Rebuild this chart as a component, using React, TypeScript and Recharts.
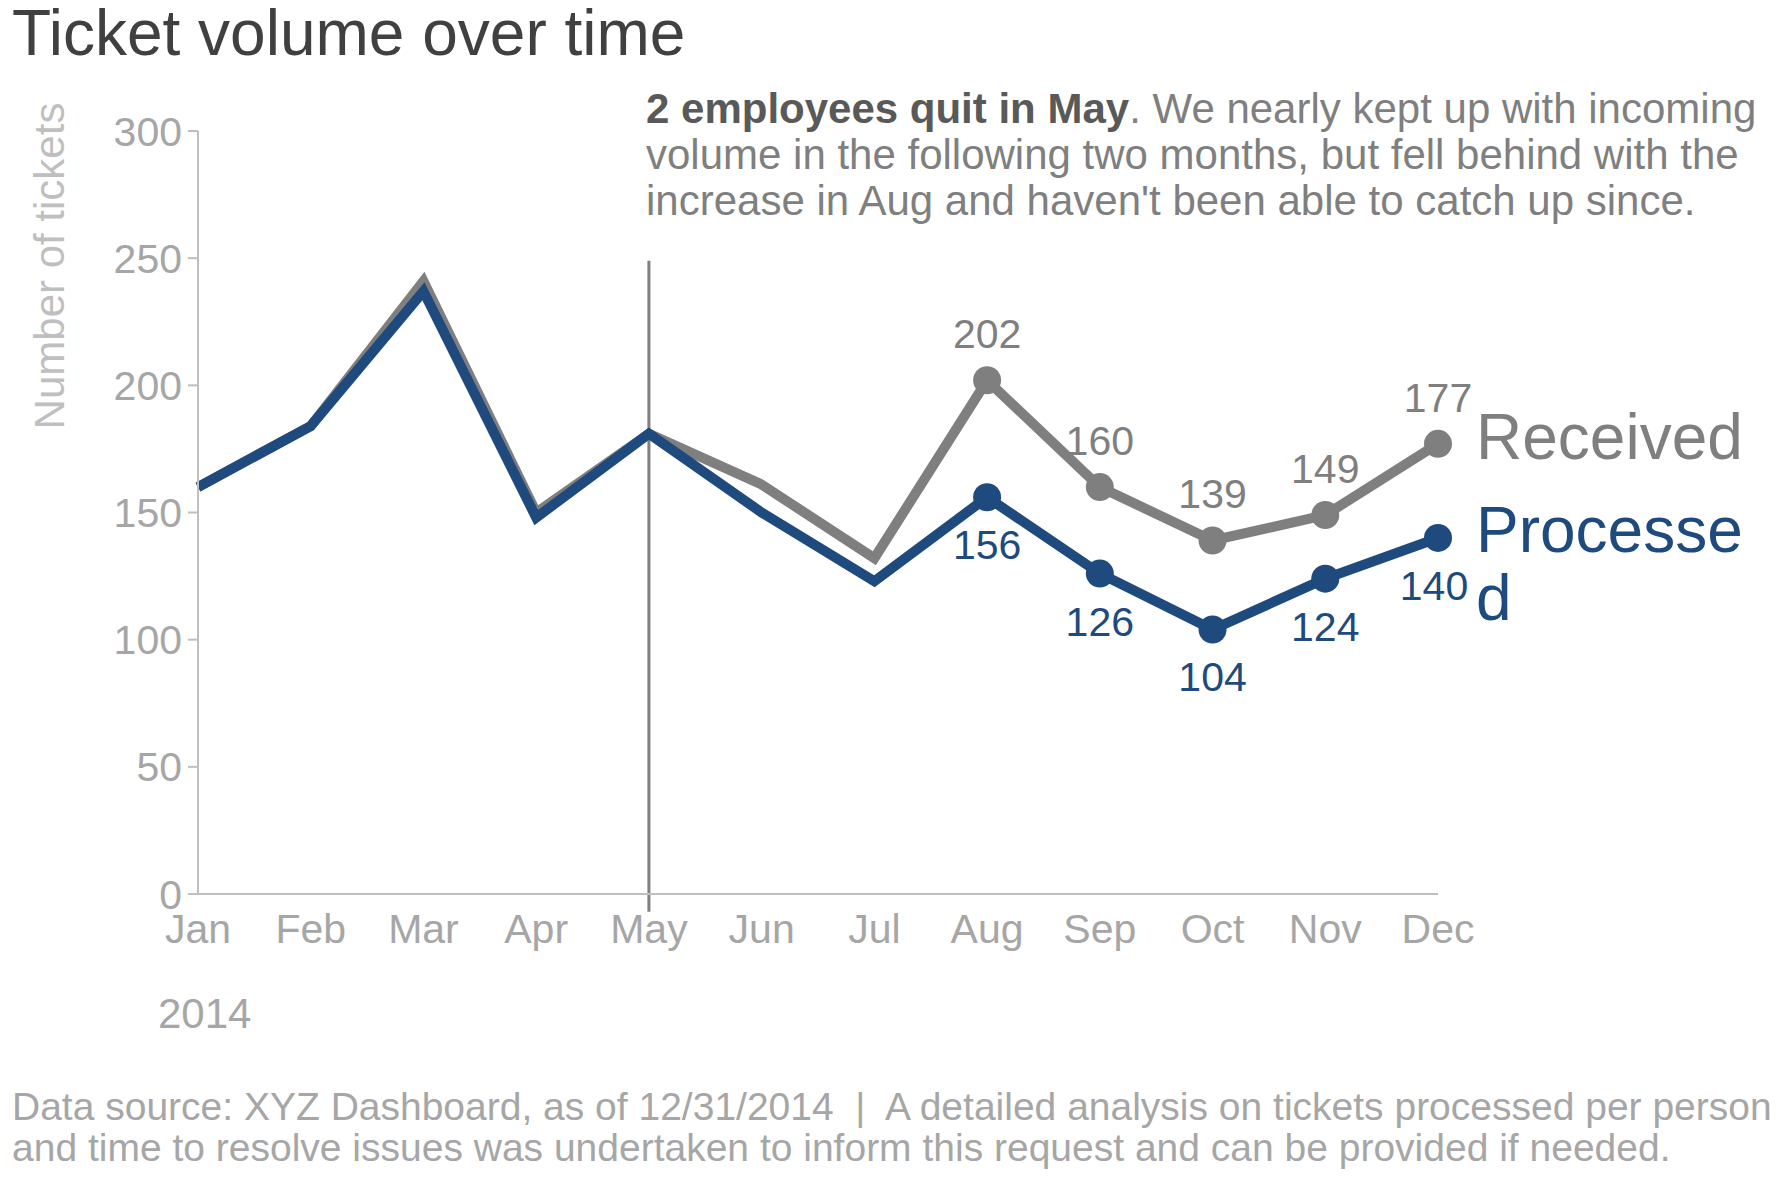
import React from "react";
import { LineChart, Line, XAxis, YAxis, ReferenceLine, LabelList } from "recharts";

const months = ["Jan", "Feb", "Mar", "Apr", "May", "Jun", "Jul", "Aug", "Sep", "Oct", "Nov", "Dec"];
const received = [160, 184, 241, 150, 181, 161, 132, 202, 160, 139, 149, 177];
const processed = [160, 184, 237, 148, 181, 150, 123, 156, 126, 104, 124, 140];
const yTicks = [0, 50, 100, 150, 200, 250, 300];
const FIRST_LABELED = 7;

const GRAY = "#7f7f7f";
const BLUE = "#1f4a7e";
const FONT = "'Liberation Sans', Arial, sans-serif";

const data = months.map((m, i) => ({ month: m, received: received[i], processed: processed[i] }));

const dot = (color: string) => (p: any) =>
  p.index >= FIRST_LABELED ? (
    <circle key={p.index} cx={p.cx} cy={p.cy} r={14} fill={color} />
  ) : (
    <g key={p.index} />
  );

const label = (color: string, above: boolean) => (p: any) => {
  if (p.index < FIRST_LABELED) return null;
  const dx = p.index === 11 && !above ? -4 : 0;
  return (
    <text
      x={p.x + dx}
      y={above ? p.y - 32 : p.y + 62}
      textAnchor="middle"
      fill={color}
      fontSize={41}
      fontFamily={FONT}
    >
      {p.value}
    </text>
  );
};

export default function App() {
  const txt: React.CSSProperties = { position: "absolute", fontFamily: FONT, whiteSpace: "nowrap" };
  return (
    <div style={{ position: "relative", width: 1776, height: 1178, fontFamily: FONT }}>
      <div style={{ ...txt, left: 4, top: -12, fontSize: 64, color: "#404040" }}>Ticket volume over time</div>
      <div style={{ ...txt, left: 638, top: 78, fontSize: 42, lineHeight: "46px", color: GRAY }}>
        <b style={{ color: "#595959" }}>2 employees quit in May</b>. We nearly kept up with incoming
        <br />
        volume in the following two months, but fell behind with the
        <br />
        increase in Aug and haven't been able to catch up since.
      </div>
      <div
        style={{
          ...txt,
          left: 42 - 180,
          top: 260 - 26,
          width: 360,
          textAlign: "center",
          fontSize: 42,
          color: "#bfbfbf",
          transform: "rotate(-90deg)",
        }}
      >
        Number of tickets
      </div>
      <div style={{ ...txt, left: 150, top: 982, fontSize: 42, color: "#a6a6a6" }}>2014</div>
      <div style={{ ...txt, left: 4, top: 1078, fontSize: 39, lineHeight: "41px", color: "#a6a6a6" }}>
        Data source: XYZ Dashboard, as of 12/31/2014 &nbsp;|&nbsp; A detailed analysis on tickets processed per person
        <br />
        and time to resolve issues was undertaken to inform this request and can be provided if needed.
      </div>
      <div style={{ ...txt, left: 1468, top: 392, fontSize: 64, color: GRAY }}>Received</div>
      <div style={{ ...txt, left: 1468, top: 488, fontSize: 64, lineHeight: "68px", color: BLUE }}>
        Processe
        <br />d
      </div>
      <LineChart
        width={1776}
        height={1178}
        data={data}
        margin={{ top: 123, right: 346, bottom: 262, left: 0 }}
        style={{ position: "absolute", left: 0, top: 0 }}
      >
        <XAxis
          dataKey="month"
          height={30}
          axisLine={{ stroke: "#bfbfbf", strokeWidth: 2 }}
          tickLine={false}
          tick={{ fill: "#a6a6a6", fontSize: 41, fontFamily: FONT }}
          tickMargin={14}
        />
        <YAxis
          domain={[0, 300]}
          ticks={yTicks}
          axisLine={{ stroke: "#bfbfbf", strokeWidth: 2 }}
          tickLine={{ stroke: "#bfbfbf", strokeWidth: 2 }}
          tickSize={10}
          tickMargin={6}
          tick={{ fill: "#a6a6a6", fontSize: 41, fontFamily: FONT }}
          width={190}
        />
        <ReferenceLine
          segment={[
            { x: "May", y: -7 },
            { x: "May", y: 249 },
          ]}
          stroke="#808080"
          strokeWidth={3}
          ifOverflow="visible"
        />
        <Line
          dataKey="received"
          stroke={GRAY}
          strokeWidth={10}
          dot={dot(GRAY)}
          activeDot={false}
          isAnimationActive={false}
        >
          <LabelList dataKey="received" content={label(GRAY, true)} />
        </Line>
        <Line
          dataKey="processed"
          stroke={BLUE}
          strokeWidth={10}
          dot={dot(BLUE)}
          activeDot={false}
          isAnimationActive={false}
        >
          <LabelList dataKey="processed" content={label(BLUE, false)} />
        </Line>
      </LineChart>
    </div>
  );
}
